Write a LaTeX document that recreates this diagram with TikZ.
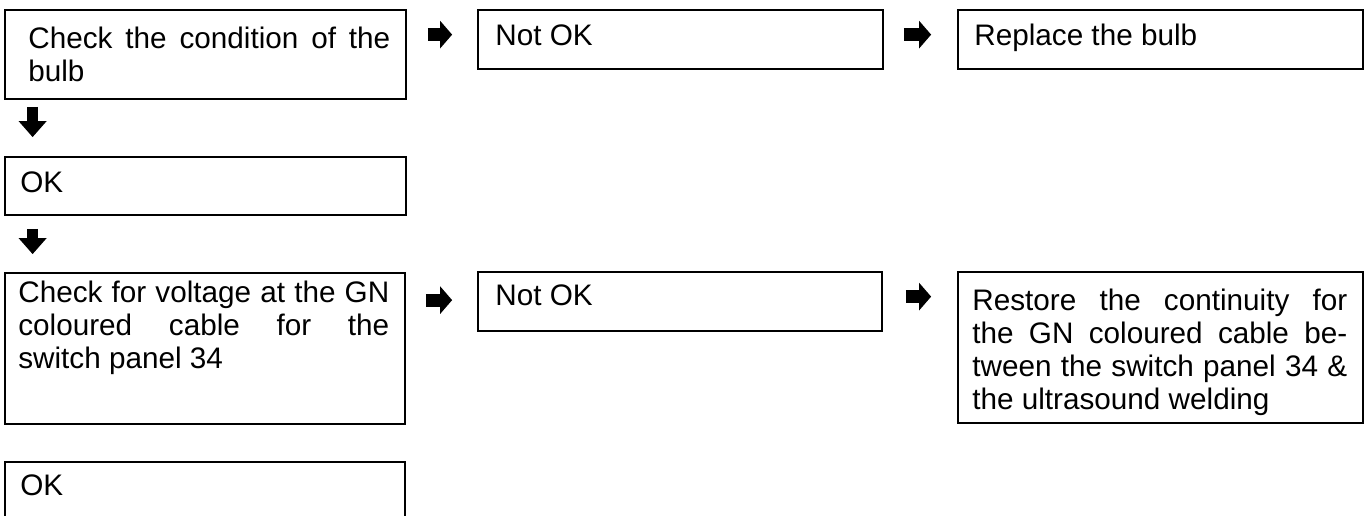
\documentclass[tikz,border=0pt]{standalone}
\usepackage{fontspec}
\setmainfont{Liberation Sans}
\usetikzlibrary{arrows.meta,calc,fit}
\tolerance=10000
\hbadness=10000
\hfuzz=5pt
\hyphenpenalty=10000
\begin{document}
\begin{tikzpicture}[x=0.02cm,y=-0.02cm,
  box/.style={draw,line width=1pt,inner sep=0pt},
  txt/.style={anchor=base west,inner sep=0pt,font=\fontsize{16.9}{18.8}\selectfont},
  fatr/.style={line width=0.26cm,-{Triangle[length=0.24cm,width=0.54cm]}},
  fatd/.style={line width=0.22cm,-{Triangle[length=0.32cm,width=0.54cm]}}]
\path[use as bounding box] (0,0) rectangle (1370,515);
\clip (0,0) rectangle (1370,515);
% boxes
\node[box,fit={(5,10)(406,99)}] (b1) {};
\node[box,fit={(478,10)(883,69)}] (b2) {};
\node[box,fit={(958,10)(1363,69)}] (b3) {};
\node[box,fit={(5,157)(406,215)}] (b4) {};
\node[box,fit={(5,273)(405,424)}] (b5) {};
\node[box,fit={(478,272)(882,331)}] (b6) {};
\node[box,fit={(958,272)(1363,423)}] (b7) {};
\node[box,fit={(5,462)(405,540)}] (b8) {};
% texts
\node[txt] (t1) at (28,48) {\parbox[t]{7.24cm}{Check the condition of the\linebreak bulb}};
\node[txt] (t2) at (495,45) {Not OK};
\node[txt] (t3) at (974,45) {Replace the bulb};
\node[txt] (t4) at (20,192) {OK};
\node[txt] (t5) at (18,302) {\parbox[t]{7.42cm}{Check for voltage at the GN\linebreak coloured cable for the\linebreak switch panel 34}};
\node[txt] (t6) at (495,305) {Not OK};
\node[txt] (t7) at (972,310) {\parbox[t]{7.5cm}{Restore the continuity for\linebreak the GN coloured cable be-\linebreak tween the switch panel 34 \&\linebreak the ultrasound welding}};
\node[txt] (t8) at (20,495) {OK};
% arrows
\draw[fatr,shorten <=0.42cm,shorten >=0.5cm] ($(b1.north east)+(0,25.5)$) -- ($(b2.north west)+(0,25.5)$);
\draw[fatr,shorten <=0.4cm,shorten >=0.52cm] ($(b2.north east)+(0,25.5)$) -- ($(b3.north west)+(0,25.5)$);
\draw[fatr,shorten <=0.4cm,shorten >=0.5cm] ($(b5.north east)+(0,28)$) -- ($(b6.north west)+(0,29)$);
\draw[fatr,shorten <=0.46cm,shorten >=0.52cm] ($(b6.north east)+(0,25.5)$) -- ($(b7.north west)+(0,25.5)$);
\draw[fatd,shorten <=0.14cm,shorten >=0.38cm] ($(b1.south west)+(28.5,0)$) -- ($(b4.north west)+(28.5,0)$);
\draw[fatd,shorten <=0.26cm,shorten >=0.36cm] ($(b4.south west)+(28.5,0)$) -- ($(b5.north west)+(28.5,0)$);
\end{tikzpicture}
\end{document}
